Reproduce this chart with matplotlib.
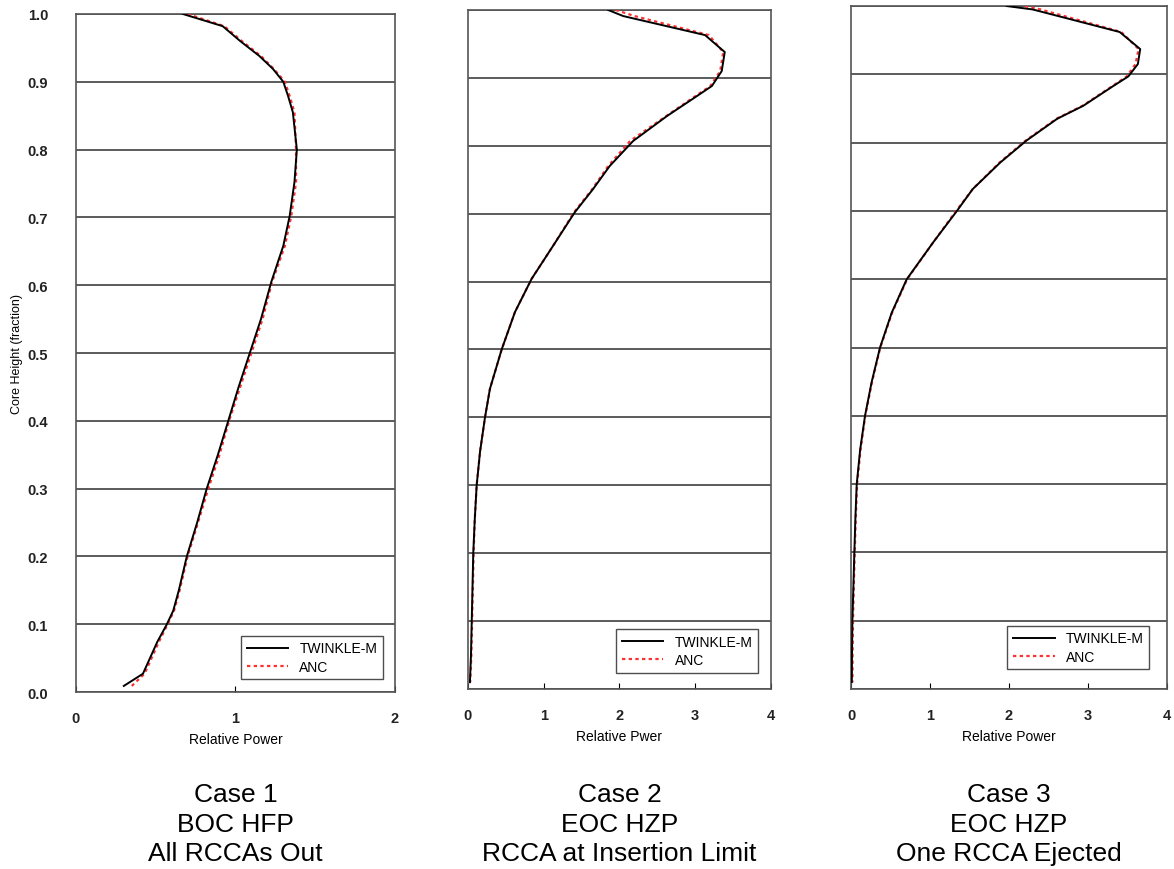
import numpy as np
import matplotlib
matplotlib.use("Agg")
import matplotlib.pyplot as plt

plt.rcParams['font.family'] = ['Liberation Sans', 'DejaVu Sans']

# Case 1 : BOC HFP, all RCCAs out
h1 = [1.0, 0.982, 0.96, 0.938, 0.919, 0.90, 0.879, 0.855, 0.80, 0.752, 0.702, 0.658, 0.605,
      0.55, 0.50, 0.45, 0.40, 0.35, 0.30, 0.25, 0.20, 0.15, 0.12, 0.10, 0.074, 0.027, 0.009]
tw1 = [0.67, 0.92, 1.03, 1.15, 1.235, 1.30, 1.33, 1.36, 1.385, 1.37, 1.34, 1.30, 1.225,
       1.16, 1.09, 1.02, 0.955, 0.89, 0.82, 0.76, 0.695, 0.645, 0.61, 0.57, 0.51, 0.42, 0.30]
anc1 = [0.70, 0.93, 1.04, 1.16, 1.24, 1.31, 1.34, 1.37, 1.38, 1.38, 1.35, 1.31, 1.23,
        1.17, 1.10, 1.03, 0.96, 0.90, 0.83, 0.765, 0.70, 0.65, 0.615, 0.575, 0.52, 0.43, 0.35]

# Case 2 : EOC HZP, RCCA at insertion limit
h2 = [1.0, 0.991, 0.963, 0.938, 0.910, 0.888, 0.873, 0.844, 0.807, 0.770, 0.736, 0.702, 0.652,
      0.604, 0.555, 0.50, 0.442, 0.40, 0.35, 0.30, 0.25, 0.20, 0.15, 0.10, 0.05, 0.01]
tw2 = [1.85, 2.05, 3.13, 3.39, 3.35, 3.22, 3.02, 2.63, 2.18, 1.87, 1.65, 1.41, 1.12,
       0.84, 0.62, 0.445, 0.29, 0.225, 0.16, 0.115, 0.09, 0.07, 0.06, 0.05, 0.04, 0.026]
anc2 = [1.95, 2.20, 3.18, 3.37, 3.33, 3.20, 3.00, 2.62, 2.14, 1.85, 1.64, 1.40, 1.12,
        0.84, 0.62, 0.445, 0.29, 0.225, 0.16, 0.115, 0.09, 0.075, 0.065, 0.055, 0.045, 0.03]

# Case 3 : EOC HZP, one RCCA ejected
h3 = [1.0, 0.995, 0.962, 0.937, 0.915, 0.897, 0.883, 0.854, 0.835, 0.803, 0.771, 0.732, 0.70,
      0.654, 0.60, 0.551, 0.50, 0.449, 0.40, 0.35, 0.30, 0.25, 0.20, 0.15, 0.10, 0.05, 0.01]
tw3 = [1.97, 2.30, 3.40, 3.66, 3.63, 3.51, 3.32, 2.94, 2.61, 2.22, 1.89, 1.54, 1.34,
       1.04, 0.705, 0.515, 0.367, 0.26, 0.177, 0.115, 0.072, 0.055, 0.042, 0.03, 0.017, 0.012, 0.01]
anc3 = [2.20, 2.40, 3.42, 3.64, 3.60, 3.49, 3.31, 2.93, 2.60, 2.21, 1.88, 1.54, 1.33,
        1.04, 0.71, 0.52, 0.37, 0.265, 0.18, 0.12, 0.077, 0.06, 0.047, 0.035, 0.025, 0.02, 0.018]

cases = [(h1, tw1, anc1, 2, "Relative Power", "Case 1\nBOC HFP\nAll RCCAs Out"),
         (h2, tw2, anc2, 4, "Relative Pwer", "Case 2\nEOC HZP\nRCCA at Insertion Limit"),
         (h3, tw3, anc3, 4, "Relative Power", "Case 3\nEOC HZP\nOne RCCA Ejected")]

# axes boxes in figure fraction [left, bottom, width, height]
boxes = [[0.0647, 0.2034, 0.2717, 0.7794],
         [0.3986, 0.2069, 0.2581, 0.7805],
         [0.7249, 0.2069, 0.2692, 0.7850]]
leg_anchor = [(0.962, 0.019), (0.957, 0.024), (0.943, 0.029)]

fig = plt.figure(figsize=(11.74, 8.70), dpi=100)
fig.patch.set_facecolor("white")

for i, (h, tw, anc, xmax, xlab, title) in enumerate(cases):
    ax = fig.add_axes(boxes[i])
    ax.plot(anc, h, color="#ff3030", linestyle=(0, (1.5, 1.5)), linewidth=1.6, label="ANC", zorder=3)
    ax.plot(tw, h, color="black", linewidth=1.4, label="TWINKLE-M", zorder=4)
    ax.set_xlim(0, xmax)
    ax.set_ylim(0, 1.0)
    ax.set_xticks(np.arange(0, xmax + 1, 1))
    ax.set_yticks(np.arange(0, 1.01, 0.1))
    ax.yaxis.grid(True, color="#404040", linewidth=1.2)
    ax.set_axisbelow(True)
    for s in ax.spines.values():
        s.set_color("#555555")
        s.set_linewidth(1.2)
    ax.tick_params(axis="x", direction="in", length=4, pad=14, labelsize=10.5)
    ax.tick_params(axis="y", length=0, labelsize=10.5, pad=20)
    for lbl in ax.get_xticklabels() + ax.get_yticklabels():
        lbl.set_fontweight("bold")
        lbl.set_color("#222222")
    if i == 0:
        ax.set_yticklabels(["%.1f" % v for v in np.arange(0, 1.01, 0.1)])
        ax.set_ylabel("Core Height (fraction)", fontsize=9, labelpad=3)
    else:
        ax.set_yticklabels([])
    ax.set_xlabel(xlab, fontsize=10, labelpad=5)
    handles, labels = ax.get_legend_handles_labels()
    leg = ax.legend(handles[::-1], labels[::-1], loc="lower right", fontsize=10,
                    frameon=True, fancybox=False, edgecolor="#222222",
                    handlelength=3.0, borderpad=0.4, labelspacing=0.3,
                    borderaxespad=0, bbox_to_anchor=leg_anchor[i])
    leg.get_frame().set_linewidth(1.0)
    cx = boxes[i][0] + boxes[i][2] / 2
    fig.text(cx, 0.052, title, ha="center", va="center", fontsize=19, linespacing=1.3)

fig.savefig("out.png", dpi=100)
